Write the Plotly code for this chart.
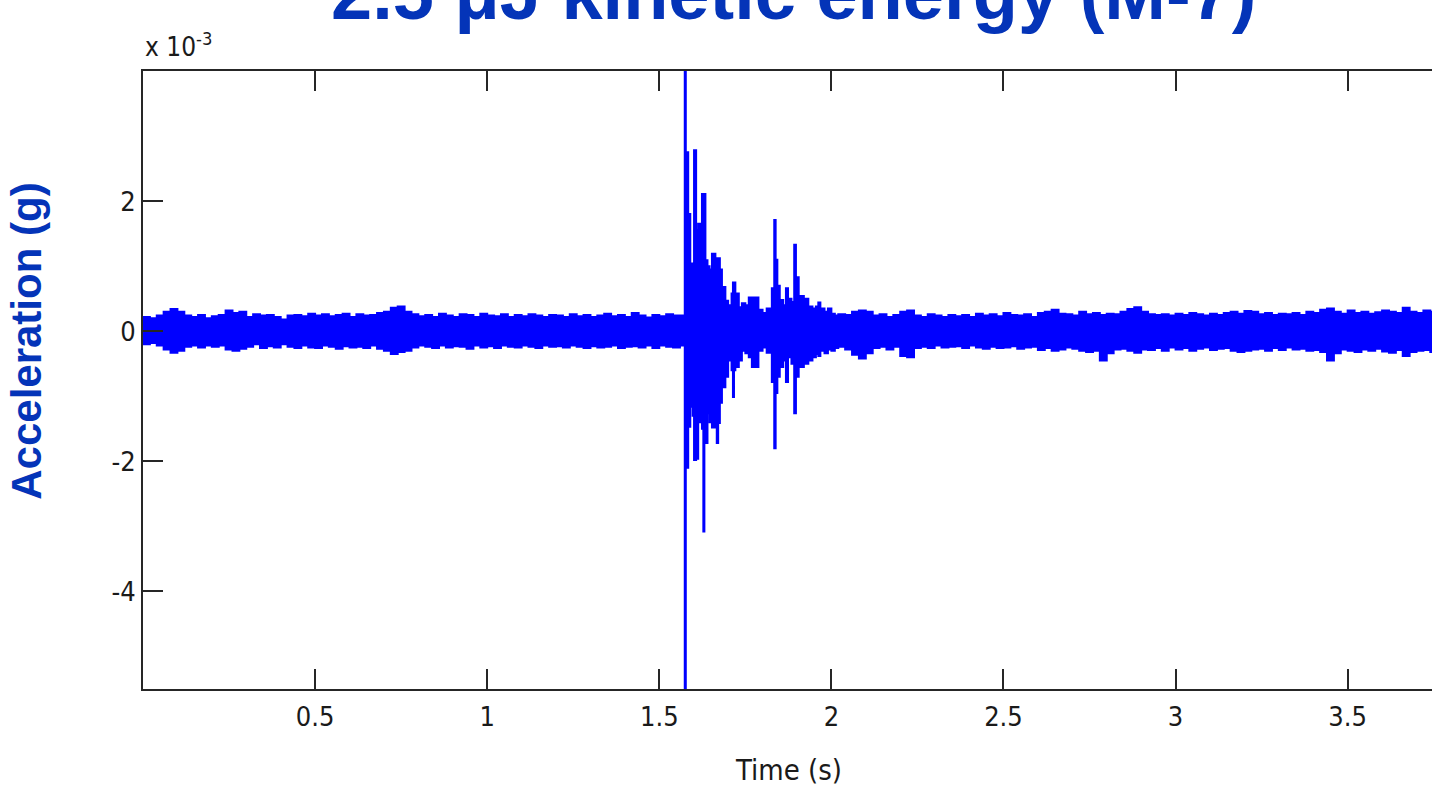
import numpy as np
import plotly.graph_objects as go

# ---------------- data (acceleration in units of 1e-3 g) ----------------
# background noise envelope before the impact, sampled every 0.02 s from t = 0
pre_start = 0.0
pre_step = 0.02
pre_upper = [0.22, 0.20, 0.24, 0.30, 0.34, 0.30, 0.24, 0.22, 0.25, 0.20,
             0.23, 0.25, 0.32, 0.28, 0.30, 0.22, 0.26, 0.24, 0.25, 0.22,
             0.18, 0.24, 0.25, 0.23, 0.27, 0.24, 0.26, 0.23, 0.25, 0.27,
             0.22, 0.26, 0.24, 0.25, 0.28, 0.30, 0.36, 0.38, 0.30, 0.26,
             0.23, 0.25, 0.22, 0.27, 0.24, 0.22, 0.26, 0.25, 0.22, 0.27,
             0.24, 0.23, 0.26, 0.22, 0.25, 0.23, 0.26, 0.24, 0.22, 0.25,
             0.24, 0.22, 0.26, 0.23, 0.25, 0.22, 0.24, 0.27, 0.23, 0.25,
             0.22, 0.28, 0.24, 0.21, 0.25, 0.23, 0.26, 0.24]
pre_lower = [-0.20, -0.18, -0.22, -0.28, -0.33, -0.30, -0.24, -0.22, -0.25, -0.22,
             -0.24, -0.22, -0.28, -0.30, -0.27, -0.24, -0.20, -0.26, -0.23, -0.25,
             -0.20, -0.24, -0.26, -0.22, -0.25, -0.26, -0.22, -0.24, -0.27, -0.23,
             -0.25, -0.24, -0.26, -0.22, -0.27, -0.30, -0.35, -0.32, -0.30, -0.25,
             -0.22, -0.24, -0.26, -0.22, -0.25, -0.23, -0.24, -0.27, -0.22, -0.25,
             -0.23, -0.26, -0.22, -0.24, -0.25, -0.22, -0.24, -0.26, -0.22, -0.24,
             -0.23, -0.25, -0.22, -0.24, -0.26, -0.23, -0.25, -0.24, -0.22, -0.26,
             -0.24, -0.23, -0.25, -0.22, -0.26, -0.22, -0.24, -0.25]

# impact burst, irregular sample times (s)
burst_t = [1.560, 1.574, 1.577, 1.584, 1.590, 1.597, 1.601, 1.607, 1.613, 1.621,
           1.624, 1.628, 1.631, 1.634, 1.640, 1.646, 1.653, 1.663, 1.667, 1.671,
           1.676, 1.682, 1.692, 1.700, 1.710, 1.714, 1.717, 1.721, 1.731, 1.740,
           1.750, 1.760, 1.769, 1.788, 1.800, 1.812, 1.822, 1.827, 1.834, 1.838,
           1.843, 1.850, 1.860, 1.868, 1.874, 1.884, 1.892, 1.897, 1.905, 1.920,
           1.933, 1.945, 1.955, 1.962, 1.968, 1.980, 1.990, 2.000, 2.010, 2.020]
burst_upper = [0.24, 4.60, 2.75, 1.80, 1.04, 0.90, 2.78, 1.55, 1.65, 1.65,
               2.11, 2.11, 2.11, 1.09, 1.00, 0.95, 1.19, 0.90, 1.12, 1.12,
               0.95, 0.68, 0.47, 0.40, 0.58, 0.75, 0.75, 0.58, 0.37, 0.43,
               0.40, 0.52, 0.52, 0.33, 0.28, 0.35, 0.30, 0.66, 1.71, 1.10,
               0.70, 0.48, 0.40, 0.66, 0.50, 0.45, 1.33, 0.83, 0.54, 0.50,
               0.38, 0.35, 0.38, 0.44, 0.35, 0.30, 0.35, 0.27, 0.24, 0.26]
burst_lower = [-0.22, -6.00, -2.10, -1.47, -1.16, -1.30, -1.98, -1.96, -1.40, -1.20,
               -1.50, -3.08, -1.60, -1.72, -1.26, -1.40, -1.48, -1.30, -1.72, -1.41,
               -1.10, -0.86, -0.70, -0.45, -0.60, -1.01, -0.60, -0.55, -0.45, -0.30,
               -0.34, -0.40, -0.55, -0.30, -0.25, -0.33, -0.28, -0.78, -1.80, -0.95,
               -0.70, -0.55, -0.45, -0.78, -0.40, -0.50, -1.26, -0.70, -0.55, -0.50,
               -0.45, -0.40, -0.35, -0.38, -0.30, -0.34, -0.28, -0.30, -0.26, -0.24]

# background noise envelope after the impact, every 0.02 s from t = 2.04
post_start = 2.04
post_step = 0.02
post_upper = [0.25, 0.30, 0.32, 0.30, 0.24, 0.26, 0.22, 0.25, 0.30, 0.32,
              0.24, 0.22, 0.26, 0.24, 0.22, 0.25, 0.23, 0.25, 0.22, 0.27,
              0.24, 0.26, 0.23, 0.28, 0.25, 0.24, 0.26, 0.22, 0.28, 0.30,
              0.33, 0.27, 0.26, 0.24, 0.30, 0.26, 0.28, 0.25, 0.27, 0.26,
              0.30, 0.34, 0.37, 0.30, 0.26, 0.25, 0.26, 0.24, 0.27, 0.25,
              0.28, 0.26, 0.24, 0.27, 0.25, 0.28, 0.30, 0.27, 0.31, 0.30,
              0.26, 0.28, 0.25, 0.27, 0.26, 0.28, 0.25, 0.30, 0.28, 0.33,
              0.35, 0.30, 0.27, 0.32, 0.28, 0.30, 0.27, 0.29, 0.32, 0.30,
              0.28, 0.36, 0.30, 0.28, 0.32, 0.30, 0.31]
post_lower = [-0.28, -0.36, -0.42, -0.34, -0.26, -0.24, -0.28, -0.24, -0.38, -0.40,
              -0.26, -0.24, -0.26, -0.22, -0.25, -0.24, -0.23, -0.26, -0.22, -0.25,
              -0.27, -0.24, -0.26, -0.25, -0.23, -0.27, -0.25, -0.24, -0.29, -0.26,
              -0.30, -0.28, -0.25, -0.27, -0.30, -0.32, -0.30, -0.45, -0.34, -0.28,
              -0.27, -0.30, -0.33, -0.28, -0.29, -0.26, -0.30, -0.25, -0.28, -0.26,
              -0.30, -0.27, -0.25, -0.29, -0.27, -0.26, -0.30, -0.32, -0.30, -0.28,
              -0.27, -0.30, -0.26, -0.29, -0.25, -0.28, -0.27, -0.30, -0.29, -0.32,
              -0.45, -0.34, -0.28, -0.30, -0.32, -0.28, -0.30, -0.27, -0.31, -0.33,
              -0.29, -0.38, -0.32, -0.30, -0.29, -0.32, -0.30]

x_tick_vals = [0.5, 1.0, 1.5, 2.0, 2.5, 3.0, 3.5]
x_tick_text = ["0.5", "1", "1.5", "2", "2.5", "3", "3.5"]
y_tick_vals = [-4, -2, 0, 2]
y_tick_text = ["-4", "-2", "0", "2"]

title_text = "2.5 \u03bcJ kinetic energy (M-7)"
x_title = "Time (s)"
y_title = "Acceleration (g)"
multiplier = "x 10<sup>-3</sup>"

# ---------------- assemble ----------------
t_pre = [round(pre_start + i * pre_step, 3) for i in range(len(pre_upper))]
t_post = [round(post_start + i * post_step, 3) for i in range(len(post_upper))]
t_all = t_pre + burst_t + t_post
upper = pre_upper + burst_upper + post_upper
lower = pre_lower + burst_lower + post_lower

BLUE = "#0000FF"
TXT_BLUE = "#0434B8"
AX = "#262626"
NARROW = "DejaVu Sans Condensed, Liberation Sans Narrow, Arial Narrow, sans-serif"
BOLD = "Liberation Sans, Arial, sans-serif"

fig = go.Figure()
fig.add_trace(go.Scatter(x=t_all, y=upper, mode="lines",
                         line=dict(color=BLUE, width=2, shape="hv"),
                         showlegend=False, hoverinfo="skip"))
fig.add_trace(go.Scatter(x=t_all, y=lower, mode="lines",
                         line=dict(color=BLUE, width=2, shape="hv"),
                         fill="tonexty", fillcolor=BLUE,
                         showlegend=False, hoverinfo="skip"))

fig.update_layout(
    width=1432, height=793,
    margin=dict(l=143, r=0, t=71, b=104),
    paper_bgcolor="white", plot_bgcolor="white",
    showlegend=False,
)
fig.update_xaxes(range=[0, 3.745], tickvals=x_tick_vals, ticktext=x_tick_text,
                 ticks="inside", ticklen=20, tickwidth=2, tickcolor=AX,
                 showline=True, linecolor=AX, linewidth=2, mirror="ticks",
                 showgrid=False, zeroline=False,
                 tickfont=dict(family=NARROW, size=27, color="#1a1a1a"),
                 ticklabelstandoff=3)
fig.update_yaxes(range=[-5.5, 4.0], tickvals=y_tick_vals, ticktext=y_tick_text,
                 ticks="inside", ticklen=20, tickwidth=2, tickcolor=AX,
                 showline=True, linecolor=AX, linewidth=2, mirror=False,
                 showgrid=False, zeroline=False,
                 tickfont=dict(family=NARROW, size=27, color="#1a1a1a"),
                 ticklabelstandoff=0)

fig.add_annotation(text="<b>" + title_text + "</b>", xref="paper", yref="paper",
                   x=0.505, y=1.126, xanchor="center", yanchor="middle",
                   showarrow=False, font=dict(family=BOLD, size=74, color=TXT_BLUE))
fig.add_annotation(text="<b>" + y_title + "</b>", xref="paper", yref="paper",
                   x=-0.091, y=0.563, xanchor="center", yanchor="middle",
                   textangle=-90, showarrow=False,
                   font=dict(family=BOLD, size=42, color=TXT_BLUE))
fig.add_annotation(text=x_title, xref="paper", yref="paper",
                   x=0.501, y=-0.131, xanchor="center", yanchor="middle",
                   showarrow=False, font=dict(family=NARROW, size=29, color="#1a1a1a"))
fig.add_annotation(text=multiplier, xref="paper", yref="paper",
                   x=0.0, y=1.012, xanchor="left", yanchor="bottom",
                   showarrow=False, font=dict(family=NARROW, size=26, color="#1a1a1a"))

fig.write_html("out.html",
               config={"displayModeBar": False},
               post_script="document.body.style.margin='0';"
                           "document.body.style.overflow='hidden';")
